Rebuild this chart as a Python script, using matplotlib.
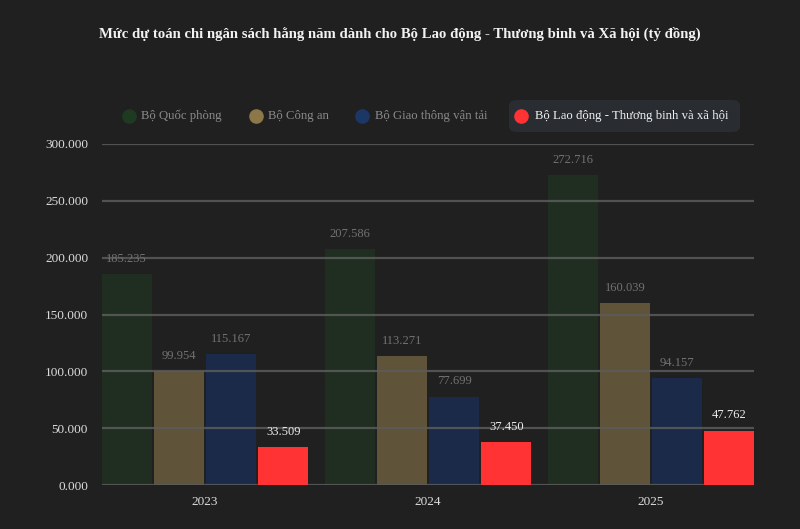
import matplotlib
matplotlib.use("Agg")
import matplotlib.pyplot as plt
from matplotlib.patches import FancyBboxPatch
from matplotlib.lines import Line2D
import numpy as np

plt.rcParams['font.family'] = ['Liberation Serif', 'DejaVu Serif']

years = ["2023", "2024", "2025"]
series = ["Bộ Quốc phòng", "Bộ Công an", "Bộ Giao thông vận tải",
          "Bộ Lao động - Thương binh và xã hội"]
quoc_phong = [185235, 207586, 272716]
cong_an = [99954, 113271, 160039]
giao_thong = [115167, 77699, 94157]
lao_dong = [33509, 37450, 47762]
values = [quoc_phong, cong_an, giao_thong, lao_dong]
colors = ["#1f2e20", "#5f5439", "#1a2a48", "#ff3333"]
legend_colors = ["#1f3a22", "#8c7748", "#1c3766", "#ff3333"]
active = [False, False, False, True]
yticks = [0, 50000, 100000, 150000, 200000, 250000, 300000]
title = "Mức dự toán chi ngân sách hằng năm dành cho Bộ Lao động - Thương binh và Xã hội (tỷ đồng)"

BG = "#202020"

def fmt(v):
    return f"{v/1000:.3f}"

fig = plt.figure(figsize=(8, 5.29), dpi=100, facecolor=BG)
ax = fig.add_axes([102/800, 1-485/529, (754-102)/800, (485-144)/529])
ax.set_facecolor(BG)

x = np.arange(len(years))
width = 0.224
step = 0.2345
for i, (vals, c) in enumerate(zip(values, colors)):
    off = (i - 1.5) * step
    bars = ax.bar(x + off, vals, width=width, color=c, zorder=3 if active[i] else 1)
    for b, v in zip(bars, vals):
        ax.annotate(fmt(v), (b.get_x() + b.get_width()/2, v), xytext=(0, 11),
                    textcoords="offset points", ha="center", va="center",
                    fontsize=9, color="#ececec" if active[i] else "#727272", zorder=4)

ax.set_xlim(-0.462, 2.462)
ax.set_ylim(0, 300000)
ax.set_yticks(yticks)
ax.set_yticklabels([fmt(t) for t in yticks])
ax.set_xticks(x)
ax.set_xticklabels(years)
ax.tick_params(axis='y', length=0, pad=10, labelsize=9.5, labelcolor="#dcdcdc")
ax.tick_params(axis='x', length=0, pad=8, labelsize=9.5, labelcolor="#dcdcdc")
ax.grid(axis='y', color="#5c5c5c", linewidth=1.6, alpha=0.85, zorder=2)
ax.set_axisbelow(False)
for s in ax.spines.values():
    s.set_visible(False)
for gl in ax.get_ygridlines():
    gl.set_zorder(2)

fig.text(0.5, 1-34/529, title, ha="center", va="center", fontsize=10.6,
         fontweight="bold", color="#f2f2f2")

# legend
leg_y = 1 - 116/529
circ_x = [129, 256, 362, 521]
text_x = [141, 268, 375, 535]
box = FancyBboxPatch((509/800, 1-132/529), (740-509)/800, 32/529,
                     boxstyle="round,pad=0,rounding_size=0.01",
                     transform=fig.transFigure, facecolor="#292c31",
                     edgecolor="none")
fig.patches.append(box)
for i, name in enumerate(series):
    fig.add_artist(Line2D([circ_x[i]/800], [leg_y], marker='o', markersize=9.5,
                          color=legend_colors[i], linestyle='none',
                          transform=fig.transFigure))
    fig.text(text_x[i]/800, leg_y, name, ha="left", va="center", fontsize=9.2,
             color="#f0f0f0" if active[i] else "#8a8a8a")

fig.savefig("out.png", dpi=100, facecolor=BG)
